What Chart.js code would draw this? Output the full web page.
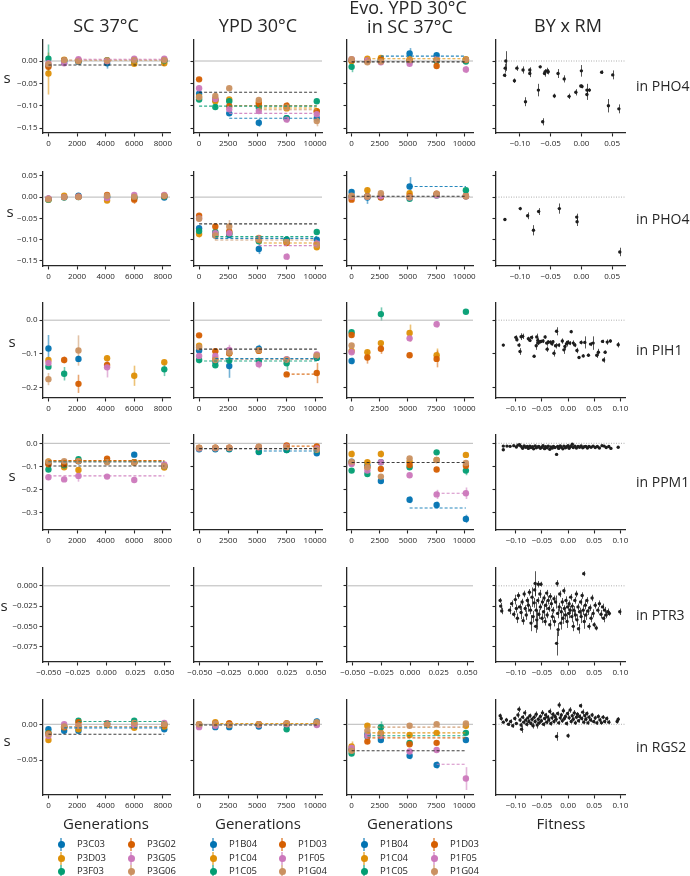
<!DOCTYPE html>
<html>
<head>
<meta charset="utf-8">
<script src="https://cdn.jsdelivr.net/npm/chart.js@4.4.1/dist/chart.umd.min.js"></script>
<style>
  body { margin: 0; background: #fff; }
  #fig { position: relative; width: 690px; height: 876px; overflow: hidden; background: #fff; }
  #fig canvas { position: absolute; }
  .lbl { position: absolute; white-space: nowrap; color: #262626; line-height: 1; font-family: "Open Sans", "Noto Sans", sans-serif; }
  .mk { position: absolute; width: 2px; height: 13px; }
  .dot { position: absolute; width: 7px; height: 7px; border-radius: 50%; }
</style>
</head>
<body>
<div id="fig"></div>
<script>
// ---- data ----------------------------------------------------------------
const STRAINS_SC = ['P3C03', 'P3D03', 'P3F03', 'P3G02', 'P3G05', 'P3G06'];
const STRAINS_YPD = ['P1B04', 'P1C04', 'P1C05', 'P1D03', 'P1F05', 'P1G04'];
const GENES = ['PHO4', 'PHO4', 'PIH1', 'PPM1', 'PTR3', 'RGS2'];
const GEN_SC = [0, 1100, 2100, 4100, 6000, 8100];
const GEN_YPD = [0, 1400, 2600, 5150, 7550, 10150];

const X_TICKS_SC = [0, 2000, 4000, 6000, 8000];
const X_TICKS_YPD = [0, 2500, 5000, 7500, 10000];
const X_TICKS_EMPTY = [-0.05, -0.025, 0, 0.025, 0.05];
const X_TICKS_FIT_A = [-0.1, -0.05, 0, 0.05];
const X_TICKS_FIT_B = [-0.1, -0.05, 0, 0.05, 0.1];
const Y_TICKS = [[0, -0.05, -0.1, -0.15], [0.05, 0, -0.05, -0.1, -0.15], [0, -0.1, -0.2],
                 [0, -0.1, -0.2, -0.3], [0, -0.025, -0.05, -0.075], [0, -0.05]];
const Y_DEC = [2, 2, 1, 1, 3, 2];
const Y_MIN = [-0.161, -0.162, -0.231, -0.375, -0.094, -0.099];
const Y_MAX = [0.047, 0.059, 0.051, 0.036, 0.022, 0.034];

// s per strain (rows) at each generation (cols); errors alongside; M = dashed means [strain(-1 = all), from, s]
const SC_PHO4A_S = [[-0.010,-0.004,-0.002,-0.005,-0.001,0.000],[-0.028,0.003,0.001,0.002,-0.006,-0.005],[0.005,0.001,0.000,0.001,0.002,0.001],
  [-0.013,0.002,0.001,0.000,0.003,0.003],[-0.005,-0.005,0.004,0.000,0.005,0.005],[-0.007,0.002,-0.001,0.001,0.002,0.002]];
const SC_PHO4A_E = [[0.004,0.003,0.003,0.012,0.003,0.003],[0.047,0.003,0.003,0.003,0.003,0.003],[0.032,0.003,0.003,0.007,0.003,0.003],
  [0.004,0.003,0.003,0.003,0.003,0.003],[0.003,0.003,0.003,0.003,0.003,0.003],[0.006,0.003,0.003,0.003,0.003,0.003]];
const SC_PHO4A_M = [[-1,0,-0.009],[4,2100,0.004],[5,1100,0.002]];

const YPD_PHO4A_S = [[-0.073,-0.087,-0.117,-0.138,-0.128,-0.128],[-0.080,-0.090,-0.086,-0.092,-0.106,-0.112],[-0.086,-0.103,-0.090,-0.104,-0.128,-0.090],
  [-0.041,-0.085,-0.101,-0.096,-0.100,-0.113],[-0.061,-0.085,-0.108,-0.112,-0.131,-0.119],[-0.081,-0.078,-0.061,-0.087,-0.104,-0.134]];
const YPD_PHO4A_E = [[0.004,0.004,0.006,0.009,0.004,0.004],[0.004,0.004,0.004,0.004,0.004,0.004],[0.005,0.006,0.004,0.004,0.005,0.004],
  [0.004,0.004,0.004,0.004,0.008,0.006],[0.004,0.004,0.004,0.004,0.007,0.005],[0.004,0.005,0.004,0.004,0.004,0.012]];
const YPD_PHO4A_M = [[-1,0,-0.070],[2,0,-0.101],[3,2600,-0.100],[1,5150,-0.105],[5,5150,-0.109],[4,2600,-0.117],[0,2600,-0.128]];

const EVO_PHO4A_S = [[0.001,0.000,0.002,0.017,0.013,0.003],[0.000,0.005,0.007,0.004,0.002,0.004],[-0.013,0.000,0.001,-0.001,0.000,-0.001],
  [0.002,0.000,0.003,0.001,-0.011,0.002],[0.004,0.001,-0.003,-0.006,0.004,-0.019],[0.004,-0.003,-0.001,0.002,0.003,0.003]];
const EVO_PHO4A_E = [[0.004,0.003,0.003,0.012,0.004,0.003],[0.004,0.004,0.004,0.003,0.003,0.003],[0.012,0.003,0.003,0.003,0.003,0.003],
  [0.003,0.003,0.003,0.003,0.003,0.003],[0.004,0.003,0.003,0.004,0.003,0.008],[0.003,0.003,0.003,0.003,0.003,0.003]];
const EVO_PHO4A_M = [[0,2600,0.011],[1,1400,0.005],[-1,0,-0.002]];

const SC_PHO4B_S = [[-0.004,0.000,0.003,-0.001,-0.003,-0.001],[-0.006,0.003,0.001,-0.008,0.000,0.002],[-0.006,-0.001,0.000,0.001,0.000,0.002],
  [-0.004,0.000,0.001,0.005,-0.006,0.003],[-0.003,0.000,0.001,-0.002,0.005,0.005],[-0.005,0.000,0.000,0.003,0.001,0.003]];
const SC_PHO4B_E = [[0.004,0.003,0.003,0.003,0.003,0.003],[0.005,0.003,0.003,0.004,0.003,0.003],[0.008,0.003,0.003,0.003,0.003,0.003],
  [0.004,0.003,0.003,0.003,0.010,0.003],[0.003,0.003,0.003,0.003,0.003,0.003],[0.006,0.003,0.003,0.003,0.003,0.003]];
const SC_PHO4B_M = [];

const YPD_PHO4B_S = [[-0.073,-0.090,-0.089,-0.122,-0.100,-0.100],[-0.087,-0.085,-0.085,-0.096,-0.105,-0.118],[-0.080,-0.082,-0.085,-0.104,-0.100,-0.082],
  [-0.044,-0.069,-0.081,-0.100,-0.108,-0.110],[-0.050,-0.085,-0.085,-0.097,-0.140,-0.109],[-0.051,-0.090,-0.069,-0.100,-0.105,-0.112]];
const YPD_PHO4B_E = [[0.004,0.004,0.004,0.012,0.004,0.004],[0.008,0.004,0.004,0.004,0.004,0.005],[0.004,0.004,0.004,0.004,0.005,0.004],
  [0.004,0.004,0.004,0.004,0.004,0.004],[0.004,0.004,0.004,0.004,0.008,0.004],[0.004,0.012,0.015,0.004,0.004,0.004]];
const YPD_PHO4B_M = [[-1,0,-0.063],[2,1400,-0.093],[0,1400,-0.097],[5,1400,-0.101],[1,5150,-0.108],[4,5150,-0.114]];

const EVO_PHO4B_S = [[0.012,-0.001,0.002,0.025,0.005,0.002],[0.002,0.016,0.004,0.009,0.005,0.003],[0.001,0.002,0.000,-0.004,0.004,0.016],
  [-0.006,0.002,-0.001,0.002,0.008,0.002],[0.001,0.001,0.002,-0.001,0.004,0.002],[0.003,0.001,0.009,0.000,0.008,0.002]];
const EVO_PHO4B_E = [[0.005,0.015,0.003,0.022,0.003,0.003],[0.005,0.006,0.003,0.004,0.003,0.003],[0.004,0.004,0.004,0.004,0.004,0.004],
  [0.005,0.004,0.004,0.004,0.004,0.004],[0.004,0.004,0.004,0.004,0.004,0.004],[0.004,0.004,0.004,0.004,0.004,0.004]];
const EVO_PHO4B_M = [[0,5150,0.025],[-1,0,0.002]];

const SC_PIH1_S = [[-0.084,null,-0.115,null,null,null],[-0.118,null,null,-0.113,-0.165,-0.125],[-0.138,-0.159,null,null,null,-0.146],
  [null,-0.118,-0.189,-0.133,null,null],[-0.127,null,null,-0.140,null,null],[-0.175,null,-0.090,null,null,null]];
const SC_PIH1_E = [[0.040,0,0.010,0,0,0],[0.006,0,0,0.008,0.030,0.005],[0.007,0.020,0,0,0,0.020],
  [0,0.010,0.027,0.008,0,0],[0.006,0,0,0.030,0,0],[0.018,0,0.045,0,0,0]];
const SC_PIH1_M = [];

const YPD_PIH1_S = [[-0.090,-0.123,-0.136,-0.085,-0.117,-0.112],[-0.076,-0.115,-0.098,-0.091,-0.118,-0.105],[-0.118,-0.134,-0.120,-0.121,-0.128,-0.111],
  [-0.045,-0.092,-0.098,-0.091,-0.161,-0.157],[-0.106,-0.106,-0.088,-0.131,-0.116,-0.102],[-0.080,-0.118,-0.096,-0.089,-0.117,-0.105]];
const YPD_PIH1_E = [[0.005,0.008,0.035,0.012,0.005,0.005],[0.006,0.005,0.006,0.005,0.005,0.005],[0.010,0.006,0.010,0.006,0.020,0.008],
  [0.004,0.006,0.006,0.005,0.005,0.030],[0.006,0.005,0.015,0.012,0.006,0.005],[0.005,0.005,0.005,0.005,0.005,0.005]];
const YPD_PIH1_M = [[-1,0,-0.086],[0,1400,-0.114],[5,1400,-0.116],[2,0,-0.121],[3,7550,-0.160]];

const EVO_PIH1_S = [[-0.121,null,null,null,null,null],[-0.091,-0.095,-0.068,-0.038,-0.104,null],[-0.036,null,0.018,null,null,0.025],
  [-0.044,-0.111,-0.085,-0.104,-0.115,null],[-0.095,null,null,-0.054,-0.012,null],[-0.075,null,null,null,null,null]];
const EVO_PIH1_E = [[0.010,0,0,0,0,0],[0.006,0.006,0.006,0.025,0.020,0],[0.006,0,0.020,0,0,0.004],
  [0.006,0.018,0.015,0.008,0.025,0],[0.006,0,0,0.010,0.010,0],[0.006,0,0,0,0,0]];
const EVO_PIH1_M = [];

const SC_PPM1_S = [[-0.086,-0.084,-0.078,-0.078,-0.049,-0.100],[-0.078,-0.104,-0.115,-0.078,-0.083,-0.105],[-0.113,-0.095,-0.069,-0.078,-0.082,-0.098],
  [-0.091,-0.091,-0.077,-0.066,-0.082,-0.097],[-0.147,-0.156,-0.141,-0.144,-0.159,-0.091],[-0.079,-0.077,-0.077,-0.082,-0.084,-0.098]];
const SC_PPM1_E = [[0.005,0.005,0.005,0.005,0.012,0.005],[0.005,0.005,0.005,0.005,0.005,0.005],[0.005,0.005,0.005,0.005,0.005,0.005],
  [0.005,0.005,0.005,0.005,0.005,0.005],[0.012,0.005,0.025,0.005,0.005,0.005],[0.005,0.005,0.005,0.005,0.005,0.005]];
const SC_PPM1_M = [[3,0,-0.074],[1,0,-0.076],[0,0,-0.079],[5,0,-0.081],[-1,0,-0.098],[4,0,-0.141]];

const YPD_PPM1_S = [[-0.026,-0.026,-0.026,-0.038,-0.029,-0.043],[-0.020,-0.020,-0.020,-0.018,-0.012,-0.020],[-0.022,-0.022,-0.023,-0.035,-0.029,-0.030],
  [-0.020,-0.019,-0.019,-0.016,-0.009,-0.014],[-0.022,-0.021,-0.020,-0.017,-0.015,-0.022],[-0.019,-0.019,-0.019,-0.015,-0.017,-0.028]];
const YPD_PPM1_E = [[0.004,0.004,0.004,0.004,0.004,0.005],[0.004,0.004,0.004,0.004,0.004,0.004],[0.004,0.004,0.004,0.004,0.004,0.004],
  [0.004,0.004,0.004,0.004,0.004,0.004],[0.004,0.004,0.004,0.004,0.004,0.004],[0.004,0.004,0.004,0.004,0.004,0.004]];
const YPD_PPM1_M = [[-1,0,-0.023],[0,5150,-0.033],[3,7550,-0.012]];

const EVO_PPM1_S = [[-0.080,-0.095,-0.163,-0.244,-0.267,-0.327],[-0.046,-0.082,-0.046,-0.080,-0.072,-0.050],[-0.118,-0.133,-0.082,-0.104,-0.039,-0.118],
  [-0.085,-0.104,-0.111,-0.094,-0.113,-0.097],[-0.089,-0.118,-0.082,-0.138,-0.221,-0.216],[-0.079,-0.104,-0.144,-0.065,-0.072,-0.085]];
const EVO_PPM1_E = [[0.008,0.008,0.012,0.015,0.015,0.018],[0.015,0.006,0.015,0.006,0.006,0.006],[0.006,0.006,0.006,0.006,0.008,0.020],
  [0.006,0.006,0.006,0.006,0.006,0.006],[0.006,0.006,0.006,0.010,0.020,0.025],[0.006,0.006,0.006,0.006,0.006,0.006]];
const EVO_PPM1_M = [[-1,0,-0.083],[4,7550,-0.216],[0,5150,-0.280]];

const SC_RGS2_S = [[-0.007,-0.009,-0.009,-0.001,-0.002,-0.007],[-0.022,-0.004,-0.007,-0.001,-0.005,-0.003],[-0.012,-0.003,0.005,0.001,0.005,0.000],
  [-0.013,-0.004,0.003,0.001,0.001,-0.001],[-0.016,0.000,-0.002,0.001,-0.001,0.002],[-0.014,-0.003,-0.002,0.000,0.002,0.000]];
const SC_RGS2_E = [[0.003,0.003,0.003,0.003,0.003,0.003],[0.004,0.003,0.003,0.003,0.003,0.003],[0.003,0.003,0.003,0.003,0.003,0.003],
  [0.003,0.003,0.003,0.003,0.003,0.003],[0.003,0.003,0.003,0.003,0.003,0.003],[0.004,0.003,0.003,0.003,0.003,0.003]];
const SC_RGS2_M = [[2,2100,0.004],[5,1100,-0.003],[0,1100,-0.005],[-1,0,-0.014]];

const YPD_RGS2_S = [[-0.001,-0.004,-0.004,-0.003,-0.001,0.004],[0.000,0.003,0.001,0.000,0.001,0.002],[-0.001,-0.001,-0.001,-0.001,-0.007,0.000],
  [-0.001,0.001,0.001,0.000,0.001,0.001],[-0.004,-0.002,-0.001,-0.001,0.000,-0.001],[0.000,0.001,-0.001,0.000,0.001,0.003]];
const YPD_RGS2_E = [[0.003,0.003,0.003,0.003,0.003,0.004],[0.003,0.003,0.003,0.003,0.003,0.003],[0.003,0.003,0.003,0.003,0.003,0.003],
  [0.003,0.003,0.003,0.003,0.003,0.003],[0.003,0.003,0.003,0.003,0.003,0.003],[0.003,0.003,0.003,0.003,0.003,0.003]];
const YPD_RGS2_M = [[-1,0,-0.001],[1,1400,0.001]];

const EVO_RGS2_S = [[-0.035,-0.014,-0.022,-0.044,-0.057,-0.022],[-0.031,-0.002,-0.012,-0.015,-0.012,-0.002],[-0.041,-0.017,-0.004,-0.026,null,-0.012],
  [-0.036,-0.024,-0.015,-0.028,-0.026,null],[-0.033,-0.016,-0.016,-0.038,-0.036,-0.076],[-0.037,-0.009,-0.013,-0.002,0.000,0.001]];
const EVO_RGS2_E = [[0.003,0.003,0.003,0.005,0.005,0.003],[0.007,0.003,0.003,0.003,0.003,0.003],[0.003,0.003,0.008,0.003,0,0.003],
  [0.003,0.003,0.003,0.003,0.003,0],[0.003,0.003,0.003,0.003,0.004,0.016],[0.003,0.003,0.003,0.003,0.003,0.003]];
const EVO_RGS2_M = [[5,1400,-0.004],[1,1400,-0.012],[2,1400,-0.016],[3,1400,-0.019],[-1,0,-0.037],[4,7550,-0.056]];

// BY x RM: [fitness, s, err]
const BY_PHO4A = [[-0.125,-0.032,0.004],[-0.124,-0.016,0.010],[-0.123,0.000,0.022],[-0.109,-0.044,0.005],[-0.105,-0.016,0.006],
  [-0.095,-0.020,0.008],[-0.091,-0.091,0.010],[-0.084,-0.020,0.006],[-0.084,-0.028,0.008],[-0.070,-0.065,0.014],[-0.067,-0.013,0.003],
  [-0.063,-0.136,0.008],[-0.060,-0.028,0.007],[-0.059,-0.024,0.006],[-0.056,-0.022,0.007],[-0.054,-0.024,0.006],[-0.044,-0.078,0.005],
  [-0.038,-0.028,0.010],[-0.028,-0.040,0.008],[-0.020,-0.079,0.006],[-0.009,-0.070,0.007],[-0.001,-0.056,0.004],[0.000,-0.022,0.013],
  [0.001,-0.057,0.004],[0.009,-0.075,0.012],[0.009,-0.065,0.014],[0.013,-0.065,0.004],[0.033,-0.025,0.004],[0.044,-0.100,0.015],
  [0.051,-0.031,0.010],[0.061,-0.107,0.010]];
const BY_PHO4B = [[-0.1245,-0.0525,0.003],[-0.0995,-0.027,0.004],[-0.0875,-0.044,0.008],[-0.078,-0.078,0.012],[-0.0696,-0.034,0.008],
  [-0.0359,-0.027,0.012],[-0.0076,-0.047,0.008],[-0.007,-0.058,0.010],[0.0625,-0.129,0.010]];
const BY_PIH1 = [[-0.124,-0.074,0.004],[-0.100,-0.051,0.006],[-0.098,-0.058,0.005],[-0.094,-0.074,0.006],[-0.092,-0.093,0.010],
  [-0.090,-0.049,0.010],[-0.087,-0.048,0.008],[-0.076,-0.055,0.006],[-0.073,-0.060,0.005],[-0.070,-0.051,0.006],[-0.065,-0.107,0.004],
  [-0.061,-0.076,0.012],[-0.060,-0.050,0.010],[-0.058,-0.060,0.008],[-0.057,-0.068,0.006],[-0.054,-0.064,0.005],[-0.052,-0.063,0.005],
  [-0.048,-0.062,0.006],[-0.044,-0.050,0.005],[-0.041,-0.068,0.008],[-0.040,-0.086,0.008],[-0.038,-0.065,0.006],[-0.034,-0.065,0.005],
  [-0.031,-0.070,0.006],[-0.029,-0.064,0.005],[-0.027,-0.098,0.010],[-0.024,-0.076,0.008],[-0.022,-0.033,0.012],[-0.018,-0.074,0.006],
  [-0.011,-0.062,0.008],[-0.008,-0.088,0.012],[-0.006,-0.078,0.010],[-0.003,-0.070,0.008],[-0.001,-0.065,0.006],[0.003,-0.068,0.006],
  [0.006,-0.034,0.005],[0.010,-0.068,0.008],[0.013,-0.074,0.006],[0.017,-0.090,0.008],[0.021,-0.111,0.004],[0.025,-0.066,0.006],
  [0.029,-0.106,0.005],[0.032,-0.066,0.018],[0.039,-0.104,0.005],[0.043,-0.071,0.006],[0.048,-0.068,0.020],[0.055,-0.104,0.008],
  [0.058,-0.095,0.010],[0.066,-0.063,0.005],[0.068,-0.118,0.008],[0.071,-0.095,0.005],[0.075,-0.065,0.008],[0.081,-0.062,0.005],
  [0.096,-0.073,0.008]];
const BY_PPM1 = [[-0.124,-0.012,0.002],[-0.124,-0.028,0.002],[-0.117,-0.012,0.002],[-0.111,-0.013,0.002],[-0.104,-0.010,0.002],
  [-0.099,-0.016,0.002],[-0.096,-0.008,0.003],[-0.093,-0.006,0.002],[-0.090,-0.013,0.002],[-0.087,-0.021,0.002],[-0.084,-0.011,0.002],
  [-0.081,-0.017,0.002],[-0.078,-0.014,0.002],[-0.076,-0.022,0.002],[-0.073,-0.012,0.003],[-0.071,-0.018,0.002],[-0.068,-0.015,0.002],
  [-0.066,-0.024,0.002],[-0.063,-0.011,0.002],[-0.061,-0.019,0.002],[-0.058,-0.016,0.002],[-0.056,-0.013,0.002],[-0.053,-0.021,0.002],
  [-0.050,-0.017,0.002],[-0.048,-0.010,0.003],[-0.045,-0.023,0.002],[-0.043,-0.015,0.002],[-0.040,-0.019,0.002],[-0.038,-0.012,0.002],
  [-0.035,-0.026,0.002],[-0.033,-0.016,0.002],[-0.030,-0.020,0.002],[-0.028,-0.013,0.002],[-0.025,-0.018,0.002],[-0.022,-0.048,0.003],
  [-0.020,-0.014,0.002],[-0.018,-0.022,0.002],[-0.015,-0.011,0.002],[-0.013,-0.017,0.002],[-0.010,-0.024,0.002],[-0.008,-0.012,0.002],
  [-0.005,-0.019,0.002],[-0.003,-0.015,0.002],[0.000,-0.010,0.003],[0.002,-0.021,0.002],[0.005,-0.014,0.002],[0.008,-0.004,0.004],
  [0.010,-0.018,0.002],[0.013,-0.012,0.002],[0.016,-0.020,0.002],[0.019,-0.014,0.002],[0.022,-0.017,0.002],[0.025,-0.011,0.002],
  [0.028,-0.019,0.002],[0.031,-0.015,0.002],[0.034,-0.013,0.002],[0.037,-0.020,0.002],[0.040,-0.014,0.002],[0.044,-0.017,0.002],
  [0.048,-0.012,0.002],[0.052,-0.018,0.002],[0.056,-0.014,0.002],[0.060,-0.020,0.002],[0.065,-0.010,0.002],[0.069,-0.012,0.002],
  [0.073,-0.018,0.002],[0.078,-0.014,0.002],[0.082,-0.022,0.002],[0.096,-0.017,0.002]];
const BY_PTR3 = [[-0.130,-0.018,0.003],[-0.129,-0.025,0.004],[-0.127,-0.031,0.004],[-0.112,-0.030,0.005],[-0.108,-0.022,0.004],
  [-0.104,-0.035,0.004],[-0.101,-0.017,0.006],[-0.099,-0.028,0.005],[-0.097,-0.040,0.006],[-0.095,-0.012,0.004],[-0.093,-0.026,0.004],
  [-0.090,-0.033,0.008],[-0.088,-0.020,0.004],[-0.086,-0.043,0.005],[-0.084,-0.010,0.004],[-0.082,-0.028,0.004],[-0.080,-0.036,0.006],
  [-0.078,-0.018,0.004],[-0.076,-0.024,0.008],[-0.074,-0.008,0.004],[-0.072,-0.030,0.005],[-0.071,-0.046,0.010],[-0.069,-0.014,0.012],
  [-0.067,-0.038,0.007],[-0.065,-0.021,0.006],[-0.064,-0.005,0.008],[-0.063,0.003,0.015],[-0.062,-0.050,0.008],[-0.061,-0.030,0.010],
  [-0.060,-0.042,0.012],[-0.058,-0.018,0.004],[-0.057,0.002,0.004],[-0.056,-0.035,0.006],[-0.054,-0.010,0.005],[-0.053,-0.026,0.004],
  [-0.052,0.002,0.003],[-0.050,-0.040,0.006],[-0.049,-0.020,0.004],[-0.047,-0.032,0.008],[-0.046,-0.015,0.004],[-0.044,-0.044,0.005],
  [-0.043,-0.024,0.006],[-0.041,-0.009,0.004],[-0.040,-0.036,0.004],[-0.038,-0.018,0.005],[-0.037,-0.028,0.004],[-0.035,-0.048,0.006],
  [-0.034,-0.013,0.004],[-0.032,-0.022,0.005],[-0.030,-0.038,0.005],[-0.029,-0.030,0.004],[-0.027,-0.016,0.004],[-0.026,-0.044,0.006],
  [-0.024,-0.020,0.008],[-0.022,-0.071,0.015],[-0.021,0.003,0.004],[-0.020,-0.034,0.006],[-0.019,-0.054,0.008],[-0.017,-0.026,0.005],
  [-0.016,-0.010,0.004],[-0.014,-0.046,0.008],[-0.013,-0.032,0.006],[-0.011,-0.020,0.005],[-0.010,-0.040,0.007],[-0.008,-0.006,0.004],
  [-0.007,-0.028,0.004],[-0.005,-0.036,0.006],[-0.004,-0.018,0.005],[-0.002,-0.044,0.008],[-0.001,-0.026,0.004],[0.001,-0.034,0.006],
  [0.002,-0.022,0.004],[0.004,-0.030,0.005],[0.005,-0.014,0.004],[0.007,-0.038,0.007],[0.008,-0.025,0.004],[0.010,-0.050,0.006],
  [0.011,-0.030,0.005],[0.013,-0.018,0.004],[0.014,-0.036,0.006],[0.016,-0.010,0.004],[0.017,-0.042,0.007],[0.019,-0.026,0.004],
  [0.020,-0.053,0.006],[0.022,-0.032,0.005],[0.024,-0.020,0.004],[0.025,-0.038,0.008],[0.027,-0.012,0.004],[0.029,-0.030,0.006],
  [0.030,0.015,0.003],[0.031,-0.044,0.009],[0.033,-0.024,0.005],[0.034,-0.036,0.006],[0.036,-0.018,0.004],[0.038,-0.031,0.005],
  [0.040,-0.050,0.004],[0.042,-0.027,0.004],[0.044,-0.040,0.005],[0.046,-0.015,0.004],[0.048,-0.034,0.005],[0.050,-0.048,0.003],
  [0.052,-0.024,0.004],[0.054,-0.052,0.003],[0.057,-0.030,0.004],[0.060,-0.022,0.004],[0.063,-0.035,0.005],[0.066,-0.026,0.004],
  [0.068,-0.040,0.005],[0.070,-0.030,0.004],[0.073,-0.036,0.004],[0.076,-0.032,0.004],[0.079,-0.034,0.003],[0.099,-0.032,0.004]];
const BY_RGS2 = [[-0.130,0.012,0.003],[-0.128,0.008,0.003],[-0.124,0.003,0.002],[-0.118,0.006,0.003],[-0.114,0.000,0.002],
  [-0.110,0.004,0.003],[-0.106,-0.002,0.003],[-0.102,0.008,0.003],[-0.099,0.001,0.002],[-0.096,0.013,0.004],[-0.094,0.021,0.004],
  [-0.092,0.006,0.003],[-0.090,-0.001,0.003],[-0.089,-0.007,0.005],[-0.087,0.010,0.003],[-0.085,0.003,0.003],[-0.083,0.016,0.004],
  [-0.081,0.006,0.003],[-0.079,0.000,0.003],[-0.077,0.009,0.003],[-0.075,0.004,0.003],[-0.073,0.012,0.003],[-0.071,0.001,0.003],
  [-0.069,0.007,0.003],[-0.067,-0.002,0.004],[-0.065,0.010,0.003],[-0.063,0.004,0.003],[-0.061,0.014,0.004],[-0.059,-0.001,0.005],
  [-0.057,0.007,0.003],[-0.055,0.002,0.003],[-0.053,0.011,0.003],[-0.051,0.005,0.003],[-0.049,0.016,0.004],[-0.047,0.000,0.003],
  [-0.045,0.008,0.003],[-0.043,0.013,0.003],[-0.041,0.003,0.003],[-0.039,0.010,0.003],[-0.037,0.006,0.003],[-0.035,0.018,0.004],
  [-0.033,0.001,0.003],[-0.031,0.009,0.003],[-0.029,0.014,0.003],[-0.027,0.004,0.003],[-0.025,0.011,0.003],[-0.023,0.007,0.004],
  [-0.022,-0.017,0.006],[-0.020,0.015,0.003],[-0.018,0.002,0.003],[-0.017,0.027,0.004],[-0.015,0.009,0.003],[-0.013,0.013,0.003],
  [-0.011,0.005,0.003],[-0.009,0.019,0.004],[-0.007,0.008,0.003],[-0.005,0.011,0.003],[-0.003,0.001,0.003],[-0.001,0.015,0.004],
  [0.000,-0.016,0.003],[0.002,0.009,0.003],[0.004,0.020,0.004],[0.006,0.004,0.003],[0.008,0.012,0.003],[0.010,0.007,0.003],
  [0.012,0.016,0.004],[0.014,0.002,0.003],[0.016,0.010,0.003],[0.018,0.014,0.003],[0.020,0.005,0.003],[0.022,0.011,0.003],
  [0.024,0.026,0.003],[0.026,0.008,0.003],[0.028,0.017,0.004],[0.030,0.003,0.003],[0.032,0.012,0.003],[0.034,0.007,0.003],
  [0.036,0.015,0.003],[0.038,0.002,0.003],[0.040,0.010,0.003],[0.043,0.006,0.003],[0.046,0.013,0.003],[0.049,0.004,0.003],
  [0.052,0.009,0.003],[0.055,0.002,0.003],[0.058,0.011,0.003],[0.061,0.006,0.003],[0.064,0.002,0.003],[0.067,0.010,0.003],
  [0.070,0.004,0.003],[0.074,0.008,0.003],[0.078,0.003,0.003],[0.094,0.004,0.003],[0.096,0.007,0.003]];

// ---- layout / style --------------------------------------------------------
const COLORS = ['#0173b2', '#de8f05', '#029e73', '#d55e00', '#cc78bc', '#ca9161'];
const FONT = '"Open Sans", "Noto Sans", sans-serif';
const AX = '#262626';
const COL_L = [43, 194, 347, 496], COL_R = [170, 322, 473, 625];
const ROW_T = [40, 172, 303, 435, 568, 700], ROW_B = [133, 266, 398, 530, 662, 795];
const PAD_L = 40, PAD_R = 16, PAD_T = 8, PAD_B = 20;

const fig = document.getElementById('fig');

function rgba(hex, a) {
  const n = parseInt(hex.slice(1), 16);
  return `rgba(${n >> 16},${(n >> 8) & 255},${n & 255},${a})`;
}
function fmt(v, d) { return (Math.abs(v) < 1e-12 ? 0 : v).toFixed(d).replace('-', '\u2212'); }

// vertical error bars, drawn under the markers, using the chart's own scales
const errorBars = {
  id: 'errorBars',
  beforeDatasetsDraw(chart) {
    const { ctx, scales: { x, y } } = chart;
    chart.data.datasets.forEach(ds => {
      if (!ds.errs) return;
      ctx.save();
      ctx.strokeStyle = ds.errColor;
      ctx.lineWidth = ds.errWidth;
      ds.data.forEach((p, j) => {
        const e = ds.errs[j];
        if (!e) return;
        const px = Math.round(x.getPixelForValue(p.x)) + 0.5;
        ctx.beginPath();
        ctx.moveTo(px, y.getPixelForValue(p.y - e));
        ctx.lineTo(px, y.getPixelForValue(p.y + e));
        ctx.stroke();
      });
      ctx.restore();
    });
  }
};

function zeroLine(xr, dotted) {
  return { data: [{ x: xr[0], y: 0 }, { x: xr[1], y: 0 }], showLine: true, pointRadius: 0,
    borderColor: dotted ? '#9a9a9a' : '#b8b8b8', borderWidth: dotted ? 0.8 : 1,
    borderDash: dotted ? [1, 1.5] : [], order: 100 };
}

function strainSets(S, E, gens) {
  return S.map((ys, k) => {
    const data = [], errs = [];
    ys.forEach((v, j) => { if (v !== null) { data.push({ x: gens[j], y: v }); errs.push(E[k][j]); } });
    return { data, errs, errColor: rgba(COLORS[k], 0.55), errWidth: 1.6,
      pointRadius: 3.2, pointBackgroundColor: rgba(COLORS[k], 0.95), pointBorderWidth: 0,
      borderColor: COLORS[k], showLine: false, order: 20 - k, clip: false };
  });
}

function meanSets(M, xEnd) {
  return M.map(([k, x0, v]) => ({ data: [{ x: x0, y: v }, { x: xEnd, y: v }], showLine: true, pointRadius: 0,
    borderColor: k < 0 ? 'rgba(30,30,30,0.85)' : rgba(COLORS[k], 0.85), borderWidth: 1.1, borderDash: [3, 2], order: 5 }));
}

function fitSets(P) {
  return [{ data: P.map(p => ({ x: p[0], y: p[1] })), errs: P.map(p => p[2]), errColor: 'rgba(30,30,30,0.75)', errWidth: 1,
    pointRadius: 1.7, pointBackgroundColor: '#1e1e1e', pointBorderWidth: 0, borderColor: '#1e1e1e',
    showLine: false, order: 10, clip: false }];
}

function panel(r, c, datasets, xr, xticks, xdec) {
  const L = COL_L[c], T = ROW_T[r];
  const pw = COL_R[c] - L, ph = ROW_B[r] - T;
  const cw = pw + PAD_L + PAD_R, ch = ph + PAD_T + PAD_B;
  const cv = document.createElement('canvas');
  cv.width = cw; cv.height = ch;
  cv.style.cssText = `left:${L - PAD_L}px;top:${T - PAD_T}px;width:${cw}px;height:${ch}px`;
  fig.appendChild(cv);
  const tickFont = { size: 8, family: FONT };
  new Chart(cv, {
    type: 'scatter',
    data: { datasets },
    options: {
      responsive: false, animation: false, devicePixelRatio: 1,
      layout: { padding: { left: 0, right: PAD_R, top: PAD_T, bottom: 0 } },
      plugins: { legend: { display: false }, tooltip: { enabled: false } },
      scales: {
        x: {
          type: 'linear', min: xr[0], max: xr[1],
          afterBuildTicks: s => { s.ticks = xticks.map(v => ({ value: v })); },
          afterFit: s => { s.height = PAD_B; s.paddingLeft = 0; s.paddingRight = 0; },
          grid: { drawOnChartArea: false, drawTicks: true, tickLength: 3.5, tickColor: AX, tickWidth: 1.1 },
          border: { display: true, color: AX, width: 1.3 },
          ticks: { color: AX, font: tickFont, padding: 2, maxRotation: 0, autoSkip: false, callback: v => fmt(v, xdec) }
        },
        y: {
          type: 'linear', min: Y_MIN[r], max: Y_MAX[r],
          afterBuildTicks: s => { s.ticks = Y_TICKS[r].map(v => ({ value: v })); },
          afterFit: s => { s.width = PAD_L; s.paddingTop = 0; s.paddingBottom = 0; },
          grid: { drawOnChartArea: false, drawTicks: true, tickLength: 3.5, tickColor: AX, tickWidth: 1.1 },
          border: { display: true, color: AX, width: 1.3 },
          ticks: { color: AX, font: tickFont, padding: 2, autoSkip: false, callback: v => (c === 0 ? fmt(v, Y_DEC[r]) : '') }
        }
      }
    },
    plugins: [errorBars]
  });
}

function label(text, x, y, fs, align, k) {
  const d = document.createElement('div');
  d.className = 'lbl';
  d.textContent = text;
  d.style.fontSize = fs + 'px';
  d.style.top = (y - (k === undefined ? 0.53 : k) * fs) + 'px';
  if (align === 'c') { d.style.left = x + 'px'; d.style.transform = 'translateX(-50%)'; }
  else d.style.left = x + 'px';
  fig.appendChild(d);
}

// ---- build panels ------------------------------------------------------------
const XR_SC = [-380, 8500], XR_YPD = [-440, 10600], XR_EVO = [-410, 10780];
const XR_EMPTY = [-0.055, 0.055], XR_FIT_A = [-0.139, 0.071], XR_FIT_B = [-0.138, 0.109];

const SC_ROWS = [[SC_PHO4A_S, SC_PHO4A_E, SC_PHO4A_M], [SC_PHO4B_S, SC_PHO4B_E, SC_PHO4B_M], [SC_PIH1_S, SC_PIH1_E, SC_PIH1_M],
                 [SC_PPM1_S, SC_PPM1_E, SC_PPM1_M], null, [SC_RGS2_S, SC_RGS2_E, SC_RGS2_M]];
const YPD_ROWS = [[YPD_PHO4A_S, YPD_PHO4A_E, YPD_PHO4A_M], [YPD_PHO4B_S, YPD_PHO4B_E, YPD_PHO4B_M], [YPD_PIH1_S, YPD_PIH1_E, YPD_PIH1_M],
                  [YPD_PPM1_S, YPD_PPM1_E, YPD_PPM1_M], null, [YPD_RGS2_S, YPD_RGS2_E, YPD_RGS2_M]];
const EVO_ROWS = [[EVO_PHO4A_S, EVO_PHO4A_E, EVO_PHO4A_M], [EVO_PHO4B_S, EVO_PHO4B_E, EVO_PHO4B_M], [EVO_PIH1_S, EVO_PIH1_E, EVO_PIH1_M],
                  [EVO_PPM1_S, EVO_PPM1_E, EVO_PPM1_M], null, [EVO_RGS2_S, EVO_RGS2_E, EVO_RGS2_M]];
const BY_ROWS = [BY_PHO4A, BY_PHO4B, BY_PIH1, BY_PPM1, BY_PTR3, BY_RGS2];

const COLS = [
  { rows: SC_ROWS, gens: GEN_SC, xr: XR_SC, ticks: X_TICKS_SC },
  { rows: YPD_ROWS, gens: GEN_YPD, xr: XR_YPD, ticks: X_TICKS_YPD },
  { rows: EVO_ROWS, gens: GEN_YPD, xr: XR_EVO, ticks: X_TICKS_YPD }
];

for (let r = 0; r < 6; r++) {
  COLS.forEach((col, c) => {
    const d = col.rows[r];
    if (!d) { panel(r, c, [zeroLine(XR_EMPTY, false)], XR_EMPTY, X_TICKS_EMPTY, 3); return; }
    const gens = col.gens;
    const sets = [zeroLine(col.xr, false), ...strainSets(d[0], d[1], gens), ...meanSets(d[2], gens[gens.length - 1])];
    panel(r, c, sets, col.xr, col.ticks, 0);
  });
  const xr = r < 2 ? XR_FIT_A : XR_FIT_B;
  panel(r, 3, [zeroLine(xr, true), ...fitSets(BY_ROWS[r])], xr, r < 2 ? X_TICKS_FIT_A : X_TICKS_FIT_B, 2);
}

// ---- text --------------------------------------------------------------------
label('SC 37°C', 106, 26, 18, 'c');
label('YPD 30°C', 258, 26, 18, 'c');
label('Evo. YPD 30°C', 408, 8, 18, 'c');
label('in SC 37°C', 410, 27, 18, 'c');
label('BY x RM', 568, 26, 18, 'c');

const S_POS = [[7, 79], [10, 213], [12, 343], [12, 477], [4, 607], [7, 742]];
S_POS.forEach(([x, y]) => label('s', x, y, 15, 'c', 0.62));
GENES.forEach((g, r) => label('in ' + g, 636, (ROW_T[r] + ROW_B[r]) / 2, 14, 'l'));

[106, 258, 410].forEach(x => label('Generations', x, 824, 15, 'c'));
label('Fitness', 561, 824, 15, 'c');

// legends
const LEG_X = [[61, 131], [213, 282], [364, 434]];
const LEG_Y = [844, 858, 871];
const LEG_NAMES = [STRAINS_SC, STRAINS_YPD, STRAINS_YPD];
LEG_NAMES.forEach((names, b) => {
  names.forEach((n, i) => {
    const mx = LEG_X[b][Math.floor(i / 3)], my = LEG_Y[i % 3];
    const bar = document.createElement('div');
    bar.className = 'mk';
    bar.style.cssText = `left:${mx - 1}px;top:${my - 6.5}px;background:${rgba(COLORS[i], 0.55)}`;
    fig.appendChild(bar);
    const dot = document.createElement('div');
    dot.className = 'dot';
    dot.style.cssText = `left:${mx - 3.5}px;top:${my - 3.5}px;background:${COLORS[i]}`;
    fig.appendChild(dot);
    label(n, mx + 16, my, 9.5, 'l');
  });
});
</script>
</body>
</html>
